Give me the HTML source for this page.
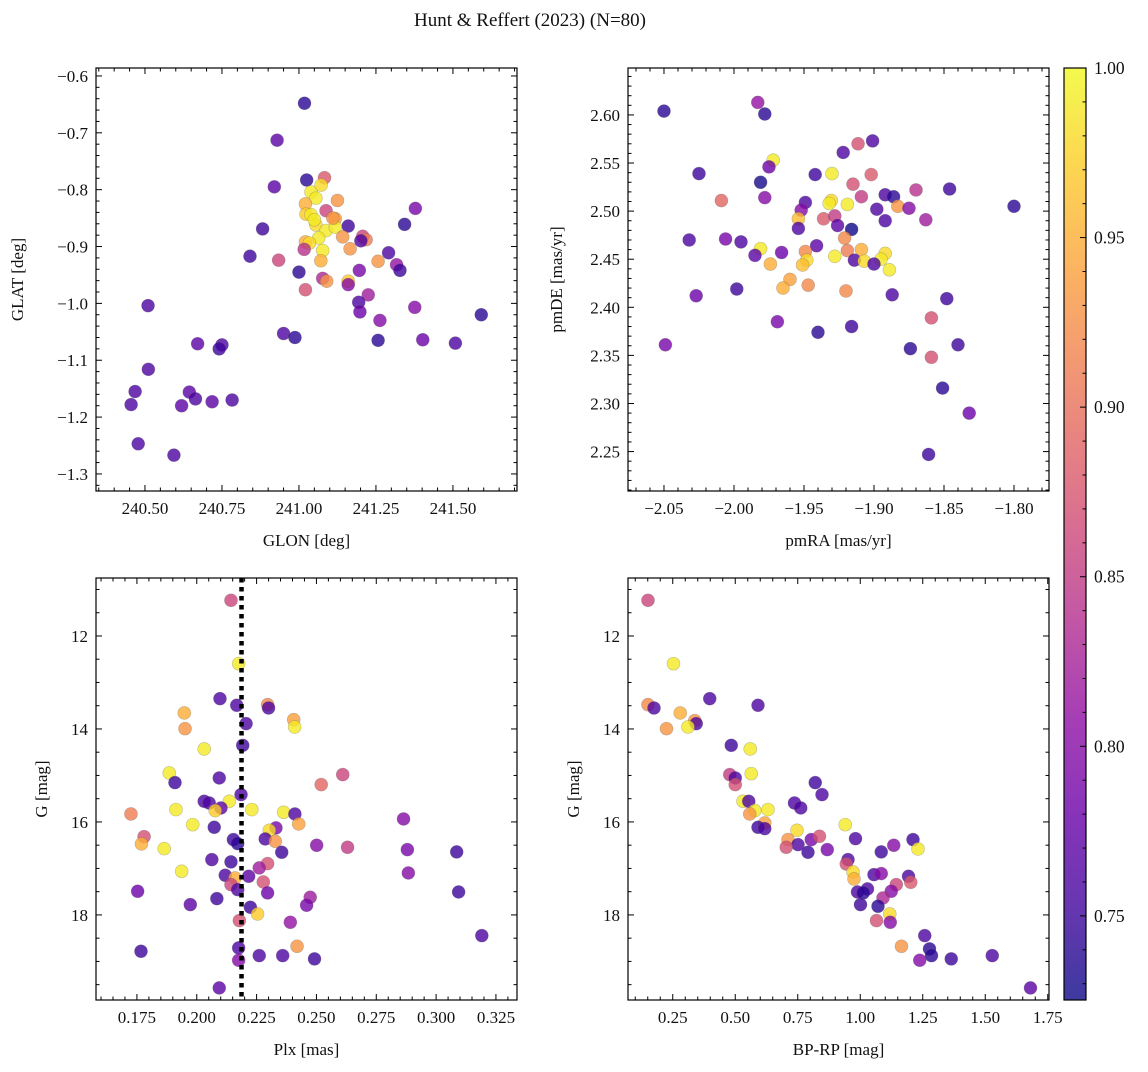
<!DOCTYPE html>
<html><head><meta charset="utf-8"><style>
body{margin:0;background:#fff;}
svg text{font-family:"Liberation Serif",serif;fill:#111;}
</style></head><body>
<svg id="fig" width="1148" height="1067" viewBox="0 0 1148 1067" xmlns="http://www.w3.org/2000/svg">
<text x="530" y="26" font-size="19" text-anchor="middle">Hunt &amp; Reffert (2023) (N=80)</text>
</svg>
<script>
// Panel 1: GLON vs GLAT
const glon=[241.018,240.929,241.025,241.083,240.92,241.039,241.072,241.055,241.125,241.021,241.088,241.378,241.023,241.039,241.118,241.16,241.343,241.055,241.088,241.118,240.882,241.142,241.207,241.218,241.201,241.064,241.021,241.034,241.017,241.077,241.166,241.291,240.841,240.934,241.071,241.257,241.317,241.328,241.0,241.196,241.077,241.09,241.16,241.16,241.021,241.225,241.194,241.198,241.376,241.263,240.51,241.592,240.95,240.987,241.257,241.402,241.508,240.671,240.75,240.741,240.511,240.468,240.455,240.644,240.664,240.619,240.718,240.783,240.478,240.594,241.05,241.11];
const glat=[-0.648,-0.713,-0.783,-0.779,-0.795,-0.804,-0.792,-0.815,-0.819,-0.825,-0.837,-0.833,-0.843,-0.844,-0.851,-0.864,-0.861,-0.862,-0.872,-0.866,-0.869,-0.883,-0.882,-0.888,-0.89,-0.885,-0.892,-0.894,-0.905,-0.907,-0.904,-0.911,-0.917,-0.924,-0.925,-0.926,-0.932,-0.942,-0.945,-0.942,-0.956,-0.961,-0.961,-0.967,-0.976,-0.985,-0.998,-1.015,-1.007,-1.03,-1.004,-1.02,-1.053,-1.06,-1.065,-1.064,-1.07,-1.071,-1.073,-1.08,-1.116,-1.155,-1.178,-1.156,-1.168,-1.18,-1.173,-1.17,-1.247,-1.267,-0.853,-0.85];
const prob1=[0.74,0.77,0.74,0.88,0.77,0.99,0.98,0.99,0.93,0.95,0.86,0.79,0.97,0.99,0.94,0.75,0.74,0.98,0.99,0.99,0.75,0.93,0.86,0.91,0.76,0.99,0.95,0.98,0.84,0.99,0.93,0.76,0.75,0.86,0.95,0.93,0.81,0.75,0.74,0.79,0.83,0.93,0.97,0.8,0.87,0.82,0.76,0.78,0.8,0.8,0.76,0.74,0.76,0.74,0.74,0.78,0.76,0.77,0.76,0.75,0.76,0.76,0.76,0.77,0.76,0.77,0.77,0.76,0.76,0.76,0.99,0.93];
// Panel 2: pmRA vs pmDE
const pmra=[-2.050,-1.983,-1.978,-1.9114,-1.901,-1.922,-1.972,-1.975,-2.025,-1.942,-1.93,-1.902,-1.981,-1.915,-1.87,-1.846,-2.009,-1.978,-1.909,-1.892,-1.886,-1.8,-1.9305,-1.932,-1.919,-1.949,-1.883,-1.875,-1.898,-1.952,-1.936,-1.928,-1.954,-1.863,-1.892,-1.926,-1.916,-1.954,-1.921,-2.032,-2.006,-1.995,-1.941,-1.919,-1.909,-1.981,-1.985,-1.966,-1.949,-1.892,-1.928,-1.948,-1.914,-1.907,-1.895,-1.9,-1.974,-1.951,-1.889,-1.96,-1.965,-1.947,-1.92,-2.027,-1.998,-1.887,-1.848,-1.969,-1.94,-1.916,-1.859,-2.049,-1.874,-1.84,-1.859,-1.851,-1.832,-1.861];
const pmde=[2.604,2.613,2.601,2.570,2.573,2.561,2.553,2.546,2.539,2.538,2.539,2.538,2.530,2.528,2.522,2.523,2.511,2.514,2.515,2.517,2.515,2.505,2.511,2.508,2.507,2.509,2.505,2.503,2.502,2.501,2.492,2.495,2.492,2.491,2.490,2.485,2.481,2.482,2.472,2.470,2.471,2.468,2.464,2.459,2.460,2.461,2.454,2.457,2.458,2.456,2.453,2.449,2.449,2.448,2.450,2.445,2.445,2.444,2.439,2.429,2.420,2.423,2.417,2.412,2.419,2.413,2.409,2.385,2.374,2.380,2.389,2.361,2.357,2.361,2.348,2.316,2.29,2.247];
const prob2=[0.74,0.81,0.74,0.87,0.76,0.76,0.99,0.78,0.75,0.75,0.99,0.88,0.73,0.87,0.84,0.75,0.89,0.8,0.85,0.76,0.74,0.74,0.98,0.99,0.99,0.76,0.93,0.8,0.76,0.8,0.88,0.85,0.96,0.82,0.76,0.77,0.72,0.76,0.92,0.76,0.79,0.76,0.77,0.91,0.95,0.99,0.77,0.78,0.92,0.98,0.99,0.98,0.76,0.98,0.99,0.76,0.95,0.96,0.99,0.94,0.95,0.92,0.92,0.78,0.75,0.76,0.75,0.79,0.74,0.75,0.87,0.79,0.74,0.75,0.87,0.74,0.78,0.75];
// Panel 3: Plx vs G
const plx=[0.2143,0.2175,0.2097,0.2167,0.2296,0.23,0.1948,0.1951,0.2405,0.2409,0.2206,0.2031,0.2192,0.1885,0.1909,0.2094,0.261,0.252,0.2185,0.2031,0.2052,0.2136,0.2101,0.2077,0.1913,0.223,0.2363,0.241,0.1725,0.2426,0.2864,0.1983,0.2073,0.2331,0.2303,0.178,0.1769,0.2153,0.2171,0.2286,0.2328,0.2501,0.263,0.288,0.3086,0.1864,0.2355,0.2063,0.2143,0.2296,0.2261,0.1937,0.2119,0.216,0.2217,0.2884,0.2278,0.2143,0.2171,0.2296,0.1753,0.3094,0.2474,0.2459,0.1973,0.2084,0.2224,0.2254,0.2178,0.2391,0.3191,0.2419,0.1767,0.2175,0.2261,0.2359,0.2492,0.2175,0.2094];
const g3=[11.233,12.595,13.348,13.491,13.477,13.549,13.656,13.993,13.80,13.957,13.886,14.43,14.352,14.947,15.154,15.054,14.982,15.197,15.412,15.556,15.592,15.556,15.699,15.756,15.735,15.735,15.792,15.828,15.828,16.043,15.936,16.058,16.115,16.129,16.18,16.316,16.473,16.38,16.466,16.366,16.416,16.502,16.545,16.595,16.645,16.574,16.653,16.81,16.86,16.896,16.989,17.061,17.147,17.205,17.169,17.097,17.291,17.348,17.456,17.527,17.491,17.506,17.62,17.792,17.778,17.649,17.835,17.979,18.122,18.158,18.445,18.674,18.782,18.71,18.875,18.875,18.946,18.975,19.57];
const prob3=[0.86,0.99,0.76,0.76,0.92,0.76,0.95,0.93,0.94,0.99,0.76,0.99,0.75,0.99,0.75,0.76,0.86,0.89,0.76,0.76,0.76,0.99,0.77,0.97,0.99,0.99,0.99,0.76,0.91,0.94,0.8,0.99,0.75,0.79,0.98,0.87,0.95,0.75,0.74,0.76,0.93,0.8,0.85,0.79,0.75,0.99,0.75,0.76,0.75,0.87,0.82,0.99,0.76,0.95,0.77,0.8,0.87,0.86,0.76,0.78,0.78,0.75,0.82,0.79,0.77,0.75,0.75,0.97,0.87,0.81,0.76,0.93,0.75,0.76,0.76,0.76,0.75,0.8,0.77];
const plxMedian=0.2187;
// Panel 4: BP-RP vs G
const bprp=[0.151,0.253,0.151,0.175,0.398,0.591,0.280,0.338,0.344,0.311,0.225,0.484,0.560,0.564,0.478,0.500,0.500,0.820,0.847,0.531,0.554,0.737,0.762,0.578,0.631,0.558,0.618,0.591,0.618,0.940,0.981,0.747,0.711,0.751,0.704,0.804,0.837,0.791,0.868,1.084,1.134,1.211,1.231,0.951,0.944,0.971,0.975,1.055,1.084,1.193,1.202,1.144,1.124,0.989,1.029,1.012,1.091,1.001,1.071,1.118,1.120,1.065,1.258,1.165,1.277,1.285,1.238,1.364,1.528,1.681];
const g4=[11.233,12.595,13.477,13.549,13.348,13.491,13.656,13.821,13.886,13.957,13.993,14.352,14.43,14.961,14.982,15.054,15.197,15.154,15.412,15.556,15.556,15.592,15.699,15.756,15.735,15.828,16.022,16.115,16.144,16.058,16.359,16.18,16.38,16.488,16.545,16.38,16.309,16.653,16.595,16.645,16.502,16.38,16.581,16.81,16.903,17.076,17.226,17.133,17.111,17.169,17.298,17.348,17.491,17.506,17.441,17.527,17.635,17.778,17.814,17.979,18.158,18.122,18.445,18.674,18.731,18.875,18.975,18.946,18.875,19.57];
const prob4=[0.86,0.99,0.92,0.76,0.76,0.76,0.95,0.93,0.76,0.99,0.93,0.75,0.99,0.99,0.85,0.76,0.87,0.75,0.76,0.99,0.76,0.76,0.76,0.99,0.99,0.93,0.94,0.75,0.76,0.99,0.76,0.98,0.93,0.76,0.87,0.79,0.87,0.75,0.79,0.75,0.8,0.75,0.99,0.76,0.87,0.98,0.95,0.76,0.8,0.76,0.88,0.86,0.8,0.76,0.76,0.74,0.83,0.75,0.74,0.98,0.8,0.87,0.76,0.93,0.74,0.74,0.8,0.75,0.76,0.77];
const cbTicks=[0.75,0.80,0.85,0.90,0.95,1.00];

const NS='http://www.w3.org/2000/svg';
const svg=document.getElementById('fig');
function mk(tag,attrs,parent){const e=document.createElementNS(NS,tag);for(const k in attrs)e.setAttribute(k,attrs[k]);(parent||svg).appendChild(e);return e;}
const stops=['#0d0887','#41049d','#6a00a8','#8f0da4','#b12a90','#cc4778','#e16462','#f2844b','#fca636','#fcce25','#f0f921'];
function hex(h){return [1,3,5].map(i=>parseInt(h.substr(i,2),16));}
const CMIN=0.7252,CMAX=1.0;
function plasma(t){t=Math.max(0,Math.min(1,t));const f=t*10,i=Math.min(9,Math.floor(f)),r=f-i;const a=hex(stops[i]),b=hex(stops[i+1]);return 'rgb('+a.map((v,k)=>Math.round(v+(b[k]-v)*r)).join(',')+')';}
function cval(p){return plasma((p-CMIN)/(CMAX-CMIN));}

function fmt(v,d){const s=Math.abs(v).toFixed(d);return (v<-1e-9?'\u2212':'')+s;}
function panel(cfg){
  const {name,x0,x1,y0,y1,xmin,xmax,ymin,ymax,invY,xMaj,xMin,yMaj,yMin,xd,yd,xlabel,ylabel,xs,ys,cs}=cfg;
  const sx=v=>x0+(v-xmin)/(xmax-xmin)*(x1-x0);
  const sy=v=>invY? y0+(v-ymin)/(ymax-ymin)*(y1-y0) : y1-(v-ymin)/(ymax-ymin)*(y1-y0);
  const g=mk('g',{});
  
  
  const clipId=name+'-clip';
  const cp=mk('clipPath',{id:clipId},g);mk('rect',{x:x0,y:y0,width:x1-x0,height:y1-y0},cp);
  const pts=mk('g',{'clip-path':'url(#'+clipId+')'},g);
  
  
  for(let i=0;i<xs.length;i++){
    const c=mk('circle',{cx:sx(xs[i]),cy:sy(ys[i]),r:6.5,fill:cval(cs[i]),'fill-opacity':0.8,stroke:'#555','stroke-opacity':0.35,'stroke-width':0.6},pts);
    
    
  }
  if(cfg.vline!==undefined){
    const l=mk('line',{x1:sx(cfg.vline),x2:sx(cfg.vline),y1:y0,y2:y1,stroke:'#000','stroke-width':4.5,'stroke-dasharray':'4.5 4.5'},g);
    
    
  }
  const fr=mk('rect',{x:x0,y:y0,width:x1-x0,height:y1-y0,fill:'none',stroke:'#000','stroke-width':1.2},g);
  
  
  const eps=1e-9;
  for(let k=Math.ceil(xmin/xMin-eps);k*xMin<=xmax+eps;k++){
    const v=k*xMin;const px=sx(v);const major=Math.abs(v/xMaj-Math.round(v/xMaj))<1e-6;const L=major?6:3.5;
    mk('line',{x1:px,x2:px,y1:y1,y2:y1-L,stroke:'#000','stroke-width':1},g);
    mk('line',{x1:px,x2:px,y1:y0,y2:y0+L,stroke:'#000','stroke-width':1},g);
    if(major){const t=mk('text',{x:px,y:y1+23,'font-size':17,'text-anchor':'middle'},g);t.textContent=fmt(v,xd);
      }
  }
  for(let k=Math.ceil(ymin/yMin-eps);k*yMin<=ymax+eps;k++){
    const v=k*yMin;const py=sy(v);const major=Math.abs(v/yMaj-Math.round(v/yMaj))<1e-6;const L=major?6:3.5;
    mk('line',{x1:x0,x2:x0+L,y1:py,y2:py,stroke:'#000','stroke-width':1},g);
    mk('line',{x1:x1,x2:x1-L,y1:py,y2:py,stroke:'#000','stroke-width':1},g);
    if(major){const t=mk('text',{x:x0-8,y:py+6,'font-size':17,'text-anchor':'end'},g);t.textContent=fmt(v,yd);
      }
  }
  const xl=mk('text',{x:(x0+x1)/2,y:y1+55,'font-size':17,'text-anchor':'middle'},g);xl.textContent=xlabel;
  
  const yx=cfg.ylabX, yy=(y0+y1)/2;
  const yl=mk('text',{x:yx,y:yy,'font-size':17,'text-anchor':'middle',transform:'rotate(-90 '+yx+' '+yy+')'},g);yl.textContent=ylabel;
  
}
panel({name:'glon-glat-panel',x0:96,x1:517,y0:68,y1:491,xmin:240.341,xmax:241.708,ymin:-1.33,ymax:-0.586,invY:false,xMaj:0.25,xMin:0.05,yMaj:0.1,yMin:0.02,xd:2,yd:1,xlabel:'GLON [deg]',ylabel:'GLAT [deg]',ylabX:23,xs:glon,ys:glat,cs:prob1});
panel({name:'pm-panel',x0:628,x1:1049,y0:68,y1:491,xmin:-2.0757,xmax:-1.775,ymin:2.209,ymax:2.6488,invY:false,xMaj:0.05,xMin:0.01,yMaj:0.05,yMin:0.01,xd:2,yd:2,xlabel:'pmRA [mas/yr]',ylabel:'pmDE [mas/yr]',ylabX:562,xs:pmra,ys:pmde,cs:prob2});
panel({name:'plx-g-panel',x0:96,x1:517,y0:578,y1:1000,xmin:0.1579,xmax:0.3338,ymin:10.753,ymax:19.83,invY:true,xMaj:0.025,xMin:0.005,yMaj:2,yMin:0.5,xd:3,yd:0,xlabel:'Plx [mas]',ylabel:'G [mag]',ylabX:47,xs:plx,ys:g3,cs:prob3,vline:plxMedian});
panel({name:'cmd-panel',x0:628,x1:1049,y0:578,y1:1000,xmin:0.071,xmax:1.755,ymin:10.753,ymax:19.83,invY:true,xMaj:0.25,xMin:0.05,yMaj:2,yMin:0.5,xd:2,yd:0,xlabel:'BP-RP [mag]',ylabel:'G [mag]',ylabX:579,xs:bprp,ys:g4,cs:prob4});

// colorbar
const cb=mk('g',{});


const gr=mk('linearGradient',{id:'cbg',x1:0,y1:1,x2:0,y2:0},cb);
for(let i=0;i<=20;i++){mk('stop',{offset:i/20,'stop-color':plasma(i/20),'stop-opacity':0.8},gr);}
const CX0=1064,CX1=1086,CY0=68,CY1=1000;
mk('rect',{x:CX0,y:CY0,width:CX1-CX0,height:CY1-CY0,fill:'url(#cbg)',stroke:'#000','stroke-width':1.2},cb);
const cy=v=>CY1-(v-CMIN)/(CMAX-CMIN)*(CY1-CY0);
for(let k=73;k<=100;k++){const v=k/100;const p=cy(v);const maj=k%5===0;
  mk('line',{x1:CX1,x2:CX1-(maj?6:3.5),y1:p,y2:p,stroke:'#000','stroke-width':1},cb);}
cbTicks.forEach(v=>{const t=mk('text',{x:CX1+8,y:cy(v)+6,'font-size':17.5},cb);t.textContent=v.toFixed(2);
  });
</script>
</body></html>
